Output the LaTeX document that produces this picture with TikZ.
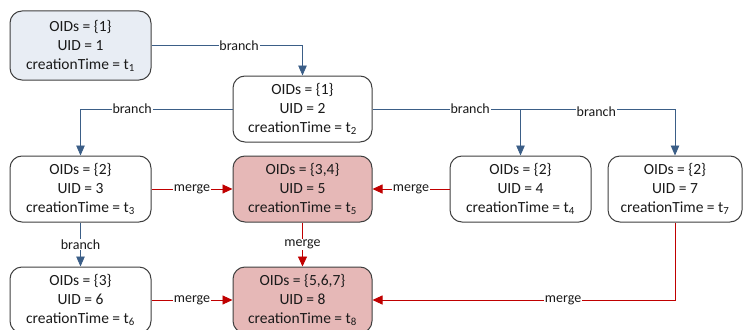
\documentclass[tikz,border=0pt]{standalone}
\usepackage{fontspec}
\setmainfont{Carlito}
\usetikzlibrary{arrows.meta}
\definecolor{branchblue}{HTML}{3B5E87}
\definecolor{mergered}{HTML}{C00000}
\definecolor{rootfill}{HTML}{E8EDF4}
\definecolor{mergefill}{HTML}{E6B8B7}
\definecolor{boxline}{HTML}{3F3F3F}
\definecolor{txt}{HTML}{1A1A1A}
\tikzset{
  version/.style={draw=boxline, line width=1pt, rounded corners=12pt, fill=white,
    minimum width=141pt, minimum height=66pt, align=center, text=txt,
    font=\fontsize{15.5}{19}\selectfont, inner sep=2pt},
  root/.style={version, fill=rootfill},
  merged/.style={version, fill=mergefill},
  branchedge/.style={draw=branchblue, line width=0.9pt,
    -{Triangle[length=10pt,width=8.5pt]}, color=branchblue},
  mergeedge/.style={draw=mergered, line width=0.9pt,
    -{Triangle[length=10pt,width=9pt]}, color=mergered},
  elabel/.style={fill=white, inner sep=0.8pt, text=txt,
    font=\fontsize{14}{16}\selectfont}
}
\begin{document}
\begin{tikzpicture}[x=1pt,y=1pt]
\useasboundingbox (0,0) rectangle (743,-329);

% version nodes
\node[root]   (n1) at (80.5,-45.5) [minimum height=69pt] {OIDs = \{1\}\\UID = 1\\creationTime = t\textsubscript{1}};
\node[version] (n2) at (302.5,-109) [minimum width=139pt] {OIDs = \{1\}\\UID = 2\\creationTime = t\textsubscript{2}};
\node[version] (n3) at (80.5,-189) {OIDs = \{2\}\\UID = 3\\creationTime = t\textsubscript{3}};
\node[merged]  (n5) at (302.5,-189) [minimum width=139pt] {OIDs = \{3,4\}\\UID = 5\\creationTime = t\textsubscript{5}};
\node[version] (n4) at (520.5,-189) {OIDs = \{2\}\\UID = 4\\creationTime = t\textsubscript{4}};
\node[version] (n7) at (675,-189) [minimum width=134pt] {OIDs = \{2\}\\UID = 7\\creationTime = t\textsubscript{7}};
\node[version] (n6) at (80.5,-300) {OIDs = \{3\}\\UID = 6\\creationTime = t\textsubscript{6}};
\node[merged]  (n8) at (302.5,-300) [minimum width=139pt] {OIDs = \{5,6,7\}\\UID = 8\\creationTime = t\textsubscript{8}};

% branch connectors
\draw[branchedge] (n1.east) -| node[elabel, pos=0.29] {branch} (n2.north);
\draw[branchedge] (n2.west) -| node[elabel, pos=0.33] {branch} (n3.north);
\draw[branchedge] (n2.east) -| node[elabel, pos=0.37, yshift=-3pt] {branch} (n7.north);
\draw[branchedge] (n2.east) -| node[elabel, pos=0.33] {branch} (n4.north);
\draw[branchedge] (n3.south) -- node[elabel] {branch} (n6.north);

% merge connectors
\draw[mergeedge] (n3.east) -- node[elabel] {merge} (n5.west);
\draw[mergeedge] (n4.west) -- node[elabel] {merge} (n5.east);
\draw[mergeedge] (n5.south) -- node[elabel] {merge} (n8.north);
\draw[mergeedge] (n6.east) -- node[elabel] {merge} (n8.west);
\draw[mergeedge] (n7.south) |- node[elabel, pos=0.685] {merge} (n8.east);
\end{tikzpicture}
\end{document}
